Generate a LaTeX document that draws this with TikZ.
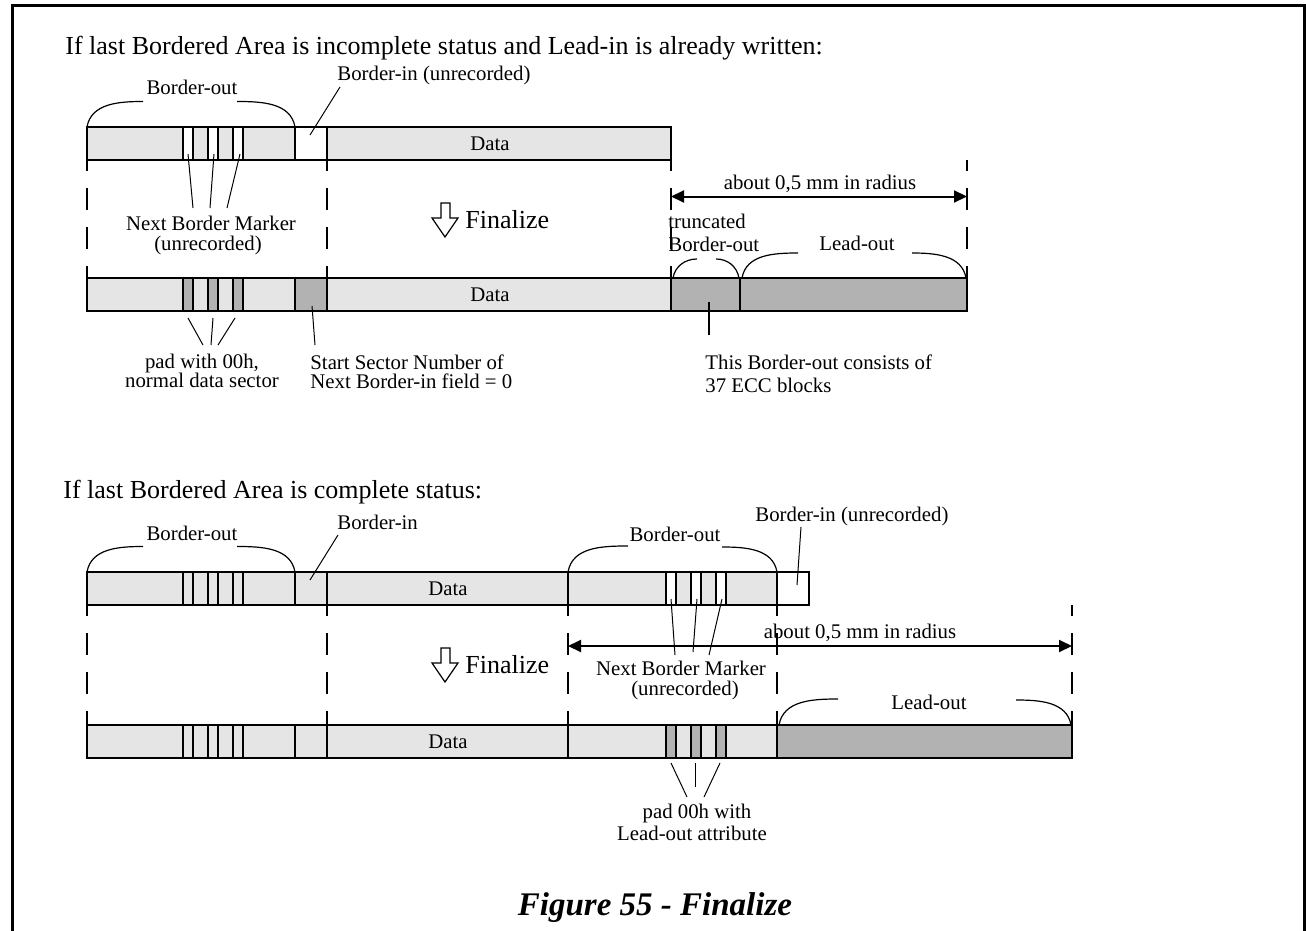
\documentclass[tikz,border=0pt]{standalone}
\usepackage{fontspec}
\setmainfont{Liberation Serif}
\usetikzlibrary{arrows.meta,calc}
\definecolor{barlight}{gray}{0.90}
\definecolor{bardark}{gray}{0.70}
\tikzset{
 lightseg/.style={draw,line width=1pt,fill=barlight},
 darkseg/.style={draw,line width=1pt,fill=bardark},
 blankseg/.style={draw,line width=1pt,fill=white},
 guide/.style={line width=1pt,dash pattern=on 11pt off 8.5pt,dash phase=5.5pt},
 leader/.style={line width=.5pt},
 brace/.style={line width=.6pt},
 tag/.style={inner sep=0,anchor=base,font=\fontsize{10.4}{10}\selectfont},
 tagl/.style={tag,anchor=base west},
 tagc/.style={tag,anchor=center},
 heading/.style={inner sep=0,anchor=base west,font=\fontsize{13}{15}\selectfont},
 radiusarrow/.style={line width=1pt,{Triangle[length=6.5pt,width=6pt]}-{Triangle[length=6.5pt,width=6pt]}},
 hollow/.style={line width=.6pt,fill=white},
 frame/.style={line width=1.5pt}
}

\begin{document}
\begin{tikzpicture}[x=0.5pt,y=-0.5pt]
\path[use as bounding box] (0,0) rectangle (1306,931);
\draw[frame] (12.5,931) -- (12.5,5.5) -- (1304,5.5) -- (1304,931);

% ---- incomplete status ----
\node[heading] (head1) at (65,55) {If last Bordered Area is incomplete status and Lead-in is already written:};

% before finalize
\draw[lightseg] (87,127) rectangle (671,160);
\foreach \m in {183,208,233} \draw[blankseg] (\m,127) rectangle ++(10,33);
\draw[blankseg] (295,127) rectangle (327,160);
\node[tagc] (data1) at (490,143.5) {Data};
\node[tag] (bo1) at (192,95) {Border-out};
\draw[brace] (87,127) to[out=80,in=180] (143,101.5);
\draw[brace] (237,101.5) to[out=0,in=100] (295,127);
\node[tagl] (bi1) at (337,80.5) {Border-in (unrecorded)};
\coordinate (bi1a) at (340,87);
\coordinate (bi1b) at (310,135);
\draw[leader] (bi1a) -- (bi1b);
\node[tag] (nbm1) at (211,230) {Next Border Marker};
\node[tag] (nbm1b) at (208,250) {(unrecorded)};
\foreach \a/\b [count=\i] in {188/193,214/210,240/227} {
 \coordinate (mk\i) at (\a,154);
 \coordinate (nb\i) at (\b,208);
 \draw[leader] (mk\i) -- (nb\i);
}
\foreach \g in {87,327,671,967} \draw[guide] (\g,160) -- (\g,278);

% finalize
\draw[hollow] (441,203) -- (450,203) -- (450,218) -- (458,218) -- (445,237) -- (432,218) -- (441,218) -- cycle;
\node[heading] (fin1) at (465,228) {Finalize};
\coordinate (ra1) at (671,196.5);
\coordinate (ra2) at (967,196.5);
\draw[radiusarrow] (ra1) -- (ra2);
\node[tag] (rad1) at (820,190) {about 0,5 mm in radius};
\node[tagl] (tr1) at (668,228) {truncated};
\node[tagl] (tr1b) at (668,251) {Border-out};
\draw[brace] (673,278) to[out=80,in=180] (697,259);
\draw[brace] (716,259) to[out=0,in=100] (739,278);
\node[tag] (lo1) at (857,250) {Lead-out};
\draw[brace] (742,278) to[out=80,in=180] (798,253);
\draw[brace] (912,253) to[out=0,in=100] (966,278);

% after finalize
\draw[lightseg] (87,278) rectangle (671,311);
\foreach \m in {183,208,233} \draw[darkseg] (\m,278) rectangle ++(10,33);
\draw[darkseg] (295,278) rectangle (327,311);
\draw[darkseg] (671,278) rectangle (740,311);
\draw[darkseg] (740,278) rectangle (967,311);
\node[tagc] (data2) at (490,294.5) {Data};
\foreach \a/\b [count=\i] in {188/203,213/211,235/218} {
 \coordinate (pd\i) at (\a,318);
 \coordinate (pt\i) at (\b,345);
 \draw[leader] (pd\i) -- (pt\i);
}
\node[tag] (pad1) at (202,368) {pad with 00h,};
\node[tag] (pad1b) at (202,387) {normal data sector};
\coordinate (ss1a) at (312,306);
\coordinate (ss1b) at (315,345);
\draw[leader] (ss1a) -- (ss1b);
\node[tagl] (ss1) at (310,369) {Start Sector Number of};
\node[tagl] (ss1c) at (310,388) {Next Border-in field = 0};
\coordinate (ecc1a) at (709,302);
\coordinate (ecc1b) at (709,335);
\draw[line width=1pt] (ecc1a) -- (ecc1b);
\node[tagl] (ecc1) at (705,369) {This Border-out consists of};
\node[tagl] (ecc1c) at (705,392) {37 ECC blocks};

% ---- complete status ----
\node[heading] (head2) at (63,498) {If last Bordered Area is complete status:};

% before finalize
\draw[lightseg] (87,572) rectangle (568,605);
\foreach \m in {183,208,233} \draw[lightseg] (\m,572) rectangle ++(10,33);
\draw[lightseg] (295,572) rectangle (327,605);
\draw[lightseg] (568,572) rectangle (777,605);
\foreach \m in {666,691,716} \draw[blankseg] (\m,572) rectangle ++(10,33);
\draw[blankseg] (777,572) rectangle (809,605);
\node[tagc] (data3) at (448,588.5) {Data};
\node[tag] (bo2) at (192,540) {Border-out};
\draw[brace] (87,572) to[out=80,in=180] (143,546.5);
\draw[brace] (237,546.5) to[out=0,in=100] (295,572);
\node[tagl] (bi2) at (337,529) {Border-in};
\coordinate (bi2a) at (338,535);
\coordinate (bi2b) at (310,580);
\draw[leader] (bi2a) -- (bi2b);
\node[tag] (bo3) at (675,541) {Border-out};
\draw[brace] (568,572) to[out=80,in=180] (628,546);
\draw[brace] (722,547) to[out=0,in=100] (777,572);
\node[tagl] (bi3) at (755,521) {Border-in (unrecorded)};
\coordinate (bi3a) at (801,527);
\coordinate (bi3b) at (797,585);
\draw[leader] (bi3a) -- (bi3b);
\foreach \g in {87,327,568,777,1072} \draw[guide] (\g,605) -- (\g,725);

% finalize
\draw[hollow] (441,648) -- (450,648) -- (450,663) -- (458,663) -- (445,682) -- (432,663) -- (441,663) -- cycle;
\node[heading] (fin2) at (465,673) {Finalize};
\coordinate (ra3) at (568,646);
\coordinate (ra4) at (1072,646);
\draw[radiusarrow] (ra3) -- (ra4);
\node[tag] (rad2) at (860,638) {about 0,5 mm in radius};
\node[tag] (nbm2) at (681,675) {Next Border Marker};
\node[tag] (nbm2b) at (685,695) {(unrecorded)};
\foreach \a/\b/\c [count=\i] in {671/675/655,697/693/652,722/709/655} {
 \coordinate (mr\i) at (\a,599);
 \coordinate (nr\i) at (\b,\c);
 \draw[leader] (mr\i) -- (nr\i);
}
\node[tag] (lo2) at (929,709) {Lead-out};
\draw[brace] (779,725) to[out=80,in=180] (838,699);
\draw[brace] (1016,700) to[out=0,in=100] (1071,725);

% after finalize
\draw[lightseg] (87,725) rectangle (777,758);
\foreach \m in {183,208,233} \draw[lightseg] (\m,725) rectangle ++(10,33);
\draw[lightseg] (295,725) rectangle (327,758);
\draw[line width=1pt] (568,725) -- (568,758);
\foreach \m in {666,691,716} \draw[darkseg] (\m,725) rectangle ++(10,33);
\draw[darkseg] (777,725) rectangle (1072,758);
\node[tagc] (data4) at (448,741.5) {Data};
\foreach \a/\b/\c [count=\i] in {671/687/797,695/695/787,720/704/797} {
 \coordinate (pl\i) at (\a,763);
 \coordinate (ql\i) at (\b,\c);
 \draw[leader] (pl\i) -- (ql\i);
}
\node[tag] (pad2) at (697,818) {pad 00h with};
\node[tag] (pad2b) at (692,840) {Lead-out attribute};

% caption
\node[tag,font=\fontsize{16.5}{18}\selectfont\bfseries\itshape] (cap) at (655,915) {Figure 55 - Finalize};
\end{tikzpicture}
\end{document}
